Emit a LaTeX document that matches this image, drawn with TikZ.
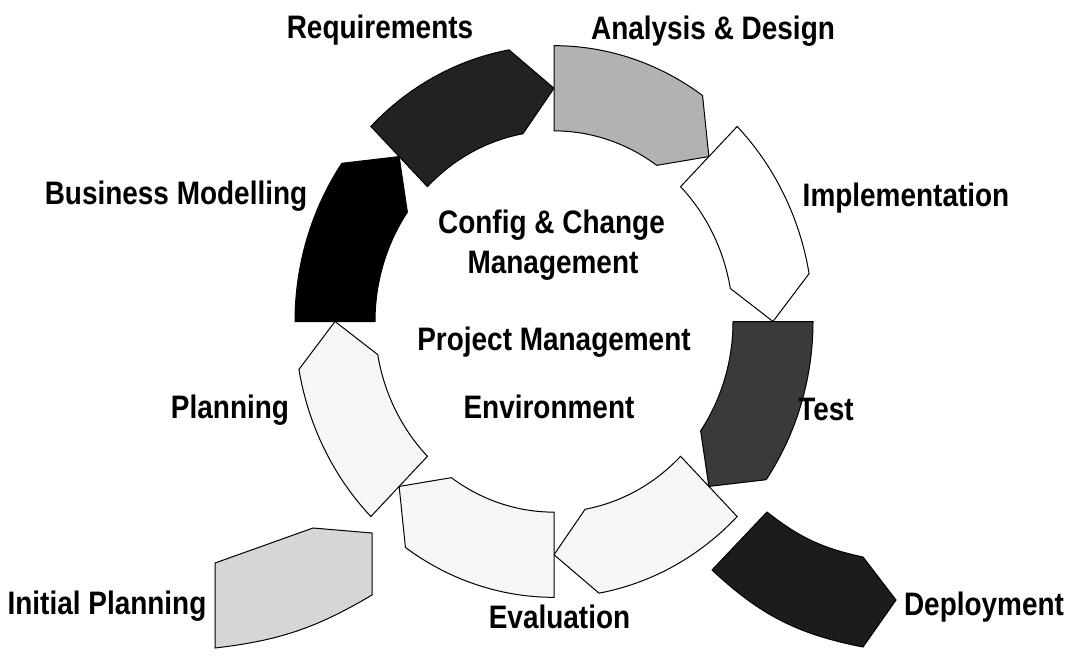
\documentclass[tikz,border=0pt]{standalone}
\usepackage{fontspec}
\setmainfont{Liberation Sans}[FakeStretch=0.86]
\newcommand\labfont{\fontsize{32.5}{36}\selectfont\bfseries}
\definecolor{reqgray}{HTML}{222222}
\definecolor{adgray}{HTML}{B2B2B2}
\definecolor{testgray}{HTML}{3A3A3A}
\definecolor{palegray}{HTML}{F6F6F6}
\definecolor{ipgray}{HTML}{D6D6D6}
\definecolor{depgray}{HTML}{1C1C1C}
\def\Ro{259}
\def\Ri{179}
\def\Rm{219}
\newcommand\ringseg[2]{%
  \path[seg,fill=#2] (#1:\Ro) arc[start angle=#1,end angle=#1-35,radius=\Ro]
    -- ({#1-45}:\Rm) -- ({#1-35}:\Ri) arc[start angle=#1-35,end angle=#1,radius=\Ri] -- cycle;}
\begin{document}
\begin{tikzpicture}[x=1pt,y=1pt,
  seg/.style={draw=black,line width=1pt,line join=miter},
  lab/.style={font=\labfont,anchor=base,inner sep=0pt}]
\useasboundingbox (0,0) rectangle (1078,-666);
\fill[white] (0,0) rectangle (1078,-666);
\begin{scope}[shift={(554,-321.5)},yscale=1.065]
  \ringseg{180}{black}
  \ringseg{135}{reqgray}
  \ringseg{90}{adgray}
  \ringseg{45}{white}
  \ringseg{0}{testgray}
  \ringseg{-45}{palegray}
  \ringseg{-90}{palegray}
  \ringseg{-135}{palegray}
\end{scope}
\path[seg,fill=ipgray] (215,-563) -- (313,-528) -- (372,-533) -- (372,-595)
  to[bend left=12] (215,-648) -- cycle;
\path[seg,fill=depgray] (767,-512) to[bend right=13] (863,-557) -- (896,-600)
  -- (863,-647) to[bend left=16] (712,-570) -- cycle;
\node[lab] (req) at (380,-39) {Requirements};
\node[lab] (ad) at (713,-40) {Analysis \& Design};
\node[lab] (bm) at (176,-204) {Business Modelling};
\node[lab] (impl) at (906,-206) {Implementation};
\node[lab] (cc1) at (551.5,-233) {Config \& Change};
\node[lab] (cc2) at (553,-273) {Management};
\node[lab] (pm) at (554,-350) {Project Management};
\node[lab] (env) at (549,-418) {Environment};
\node[lab] (plan) at (230,-418) {Planning};
\node[lab] (test) at (826,-420) {Test};
\node[lab] (ip) at (107,-614) {Initial Planning};
\node[lab] (eval) at (559.5,-628) {Evaluation};
\node[lab] (dep) at (984,-615) {Deployment};
\end{tikzpicture}
\end{document}
